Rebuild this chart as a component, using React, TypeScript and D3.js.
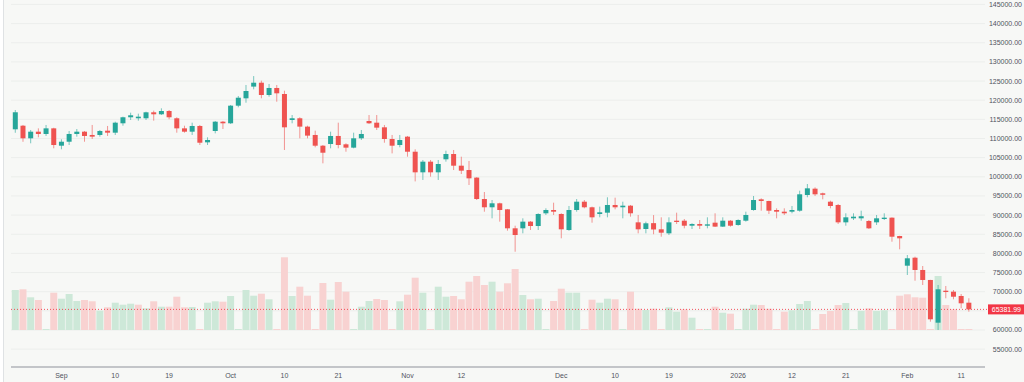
import React, { useEffect } from "react";
import * as d3 from "d3";

// ---------- DATA ----------
const startDate = "2025-08-22"; // first session; one bar per weekday

const opens = [
  112400, 113340, 110050, 111780, 111180, 112650, 108120, 109160, 111180, 111780,
  110920, 110920, 112040, 111520, 113970, 115540, 115280, 115280, 116840, 116320,
  117180, 115280, 112650, 111780, 113270, 109000, 111960, 114390, 113970, 118570,
  120490, 123550, 124570, 121360, 123190, 121620, 114830, 115280, 113100, 110920,
  108120, 108560, 110660, 108480, 107610, 110050, 114570, 114130, 112920, 109870,
  108300, 110480, 106550, 101170, 103950, 101170, 104570, 105950, 102900, 101770,
  99790, 94200, 92040, 93080, 91510, 86550, 86550, 88290, 87150, 90470,
  91330, 90290, 86110, 91330, 93500, 92040, 90290, 90630, 92640, 92040,
  92460, 88110, 86370, 87900, 86290, 85240, 88540, 88540, 87230, 87680,
  87230, 88020, 86990, 88540, 87420, 88540, 91330, 94120, 93680, 91330,
  90890, 90890, 91150, 95250, 96900, 95690, 93500, 92640, 88110, 89160,
  89160, 88460, 88110, 88980, 89330, 84540, 76790, 78880, 75670, 73060,
  61910, 70260, 70000, 68880, 67130,
];
const highs = [
  117440, 113530, 112220, 112650, 113530, 112800, 109790, 111960, 112480, 111960,
  113530, 112220, 113270, 114390, 115700, 116740, 116480, 117000, 117270, 117880,
  117440, 115540, 113340, 114130, 113530, 110310, 114570, 114570, 118750, 121100,
  123970, 126300, 125100, 124230, 123970, 122480, 116130, 115540, 113340, 112040,
  108300, 111780, 114130, 108750, 111520, 112220, 116130, 116130, 113530, 110920,
  110920, 110660, 107180, 104390, 104390, 104390, 106820, 107000, 105250, 104130,
  99900, 96030, 93940, 93240, 91600, 87230, 89160, 88460, 90470, 91770,
  93240, 90470, 92380, 94200, 93940, 92210, 92210, 94650, 94550, 93500,
  92640, 90030, 88290, 90000, 89420, 89420, 90630, 88980, 87860, 88720,
  89420, 90470, 89420, 88720, 88900, 90890, 94990, 94380, 93760, 91770,
  91770, 92380, 96370, 98120, 97250, 95860, 93760, 92900, 90470, 90470,
  91150, 88720, 90030, 90470, 89400, 84600, 79580, 79140, 76710, 73100,
  71750, 71490, 70440, 69400, 68280,
];
const lows = [
  111500, 109140, 108750, 110310, 110660, 107440, 107180, 108300, 110480, 109160,
  109870, 110480, 110660, 110920, 113340, 114830, 114650, 114830, 114660, 116140,
  115020, 111520, 111520, 110920, 108300, 108300, 111350, 112480, 113790, 118150,
  119350, 122840, 120490, 120920, 119610, 107000, 113970, 110050, 110050, 107700,
  103520, 107440, 107440, 106550, 107440, 109610, 113790, 112220, 108900, 106120,
  107700, 105250, 98800, 99170, 100030, 99170, 103950, 101770, 100730, 97860,
  93940, 90890, 89160, 88290, 85930, 80440, 85240, 86110, 86110, 90030,
  90030, 83940, 85900, 90890, 91770, 88020, 89420, 89420, 91510, 89160,
  89590, 85240, 85240, 85000, 84360, 84800, 87680, 86550, 86370, 86370,
  86550, 86900, 86900, 86990, 87230, 88290, 91150, 91150, 90290, 89160,
  90030, 90470, 90890, 94650, 94990, 94120, 91770, 87680, 87230, 88720,
  88540, 86370, 87420, 88720, 83050, 81070, 74360, 72870, 71750, 62170,
  60000, 68280, 68020, 65670, 64780,
];
const closes = [
  116850, 110050, 111780, 111180, 112650, 108300, 109160, 111180, 111780, 110660,
  110480, 111960, 111520, 114130, 115540, 116060, 115700, 116840, 116320, 117180,
  115540, 112650, 111780, 113270, 108900, 109610, 114390, 113970, 118570, 120650,
  122400, 124570, 121360, 123190, 121800, 112920, 115280, 113100, 110750, 108120,
  106290, 110660, 108300, 107610, 110050, 111180, 113970, 112830, 109870, 108120,
  109610, 106550, 101170, 103950, 101170, 103340, 105950, 102900, 101600, 99600,
  94200, 92040, 93080, 91330, 86550, 84800, 88290, 87150, 90290, 91330,
  90890, 86290, 91330, 93500, 92040, 89420, 90730, 92640, 92040, 92460,
  90470, 86290, 87860, 86250, 85410, 88110, 88200, 87230, 87680, 87230,
  87590, 86990, 88540, 87230, 88720, 90030, 93940, 93680, 91150, 90890,
  90470, 91330, 95430, 96990, 95430, 95300, 92380, 88110, 89420, 89590,
  89700, 86550, 89160, 89330, 84360, 83940, 78720, 75670, 73060, 62790,
  70630, 69920, 68690, 66970, 65381.99,
];
const volumes = [
  40000, 40700, 32700, 30000, 0, 37300, 31300, 36000, 29000, 30000,
  28700, 19300, 22700, 27300, 25300, 26300, 25300, 21700, 28700, 23300,
  23300, 33300, 22700, 23000, 0, 27300, 28700, 28300, 34000, 0,
  40000, 34300, 36300, 30700, 0, 72700, 34000, 43300, 34300, 0,
  47000, 30300, 48000, 38300, 0, 23300, 29000, 31000, 30000, 0,
  28700, 35300, 52300, 37300, 0, 43300, 33300, 34000, 30700, 48300,
  54000, 45000, 48300, 38300, 46700, 61000, 35000, 30700, 31300, 0,
  29000, 41300, 37300, 37300, 0, 30300, 27300, 31300, 30700, 0,
  38300, 21300, 20000, 21300, 0, 22700, 18300, 20700, 12300, 0,
  0, 23300, 17300, 16300, 0, 21300, 25300, 25000, 21300, 0,
  18300, 19700, 26000, 29000, 0, 16000, 19000, 25000, 27000, 0,
  19000, 21700, 19000, 19700, 0, 34300, 35700, 32700, 32300, 0,
  54000, 25000, 20700, 0, 0,
];
const priceTicks = [
  55000, 60000, 65000, 70000, 75000, 80000, 85000, 90000, 95000, 100000,
  105000, 110000, 115000, 120000, 125000, 130000, 135000, 140000, 145000,
];
const dateTickDates = [
  "2025-09-01", "2025-09-10", "2025-09-19", "2025-10-01", "2025-10-10", "2025-10-21",
  "2025-11-03", "2025-11-12", "2025-12-01", "2025-12-10", "2025-12-19", "2026-01-01",
  "2026-01-12", "2026-01-21", "2026-02-02", "2026-02-11",
];
const dateTickLabels = [
  "Sep", "10", "19", "Oct", "10", "21", "Nov", "12", "Dec", "10", "19", "2026",
  "12", "21", "Feb", "11",
];
const lastPrice = 65381.99;

// ---------- helpers ----------
function weekdaySessions(start: string, n: number): string[] {
  const out: string[] = [];
  const d = new Date(start + "T00:00:00Z");
  while (out.length < n) {
    const wd = d.getUTCDay();
    if (wd !== 0 && wd !== 6) out.push(d.toISOString().slice(0, 10));
    d.setUTCDate(d.getUTCDate() + 1);
  }
  return out;
}

const W = 1024;
const H = 382;
const PLOT_L = 11;
const PLOT_R = 985;
const AXIS_Y = 367;
const GREEN = "#26a69a";
const RED = "#ef5350";
const VOL_GREEN = "#cde8d8";
const VOL_RED = "#f8d2d1";
const TEXT = "#50535e";
const FONT = "'Liberation Sans', Arial, sans-serif";

export default function App() {
  useEffect(() => {
    document.body.style.margin = "0";
  }, []);

  const n = closes.length;
  const dates = weekdaySessions(startDate, n);
  const idx = d3.range(n);

  const x = d3.scaleBand<number>().domain(idx).range([11.45, 11.45 + 7.69 * n]).padding(0);
  const bw = x.bandwidth();
  const cx = (i: number) => (x(i) as number) + bw / 2;

  const y = d3.scaleLinear().domain([55000, 145000]).range([349.15, 4.45]);
  const yVol = d3.scaleLinear().domain([0, d3.max(volumes) as number]).range([330, 257.3]);

  const bodyW = 5;

  return (
    <svg
      width={W}
      height={H}
      style={{ position: "absolute", left: 0, top: 0, display: "block" }}
      fontFamily={FONT}
    >
      <rect x={0} y={0} width={W} height={H} fill="#ffffff" />
      <rect x={4} y={0} width={W - 4} height={H} fill="#f7f8f6" />
      <line x1={3.5} x2={3.5} y1={0} y2={H} stroke="#dfe2e4" strokeWidth={1} />

      {/* horizontal grid */}
      {priceTicks.map((t) => (
        <line
          key={"g" + t}
          x1={PLOT_L}
          x2={PLOT_R}
          y1={y(t)}
          y2={y(t)}
          stroke="#eceeec"
          strokeWidth={1}
        />
      ))}

      {/* volume bars */}
      {volumes.map((v, i) => {
        const up = i === 0 ? closes[i] >= opens[i] : closes[i] >= closes[i - 1];
        const fill = up ? VOL_GREEN : VOL_RED;
        const top = yVol(v);
        const h = Math.max(1, yVol(0) - top);
        return (
          <rect
            key={"v" + i}
            x={(x(i) as number) + 0.35}
            y={yVol(0) - h}
            width={bw - 0.7}
            height={h}
            fill={fill}
          />
        );
      })}

      {/* last price line */}
      <line
        x1={PLOT_L}
        x2={989}
        y1={y(lastPrice)}
        y2={y(lastPrice)}
        stroke="#f23645"
        strokeWidth={1}
        strokeDasharray="1,2"
        opacity={0.85}
      />

      {/* candles */}
      {idx.map((i) => {
        const up = closes[i] >= opens[i];
        const col = up ? GREEN : RED;
        const top = y(Math.max(opens[i], closes[i]));
        const bot = y(Math.min(opens[i], closes[i]));
        return (
          <g key={"c" + i}>
            <line
              x1={cx(i)}
              x2={cx(i)}
              y1={y(highs[i])}
              y2={y(lows[i])}
              stroke={col}
              strokeWidth={1}
              opacity={0.6}
            />
            <rect
              x={cx(i) - bodyW / 2}
              y={top}
              width={bodyW}
              height={Math.max(1, bot - top)}
              fill={col}
            />
          </g>
        );
      })}

      {/* price axis labels */}
      {priceTicks.map((t) => (
        <text
          key={"t" + t}
          x={1022}
          y={y(t)}
          dy="0.35em"
          fontSize={7}
          textAnchor="end"
          fill={TEXT}
        >
          {d3.format(".2f")(t)}
        </text>
      ))}

      {/* last price label */}
      <rect x={988} y={y(lastPrice) - 5} width={36} height={10} fill="#f23645" />
      <text x={1021} y={y(lastPrice)} dy="0.35em" fontSize={7} textAnchor="end" fill="#ffffff">
        {d3.format(".2f")(lastPrice)}
      </text>

      {/* time axis */}
      <line x1={PLOT_L} x2={PLOT_R} y1={AXIS_Y} y2={AXIS_Y} stroke="#8f929b" strokeWidth={1} />
      {dateTickDates.map((d, k) => {
        const i = dates.indexOf(d);
        if (i < 0) return null;
        return (
          <text
            key={"d" + k}
            x={cx(i)}
            y={375.5}
            dy="0.35em"
            fontSize={7}
            textAnchor="middle"
            fill={TEXT}
          >
            {dateTickLabels[k]}
          </text>
        );
      })}
    </svg>
  );
}
